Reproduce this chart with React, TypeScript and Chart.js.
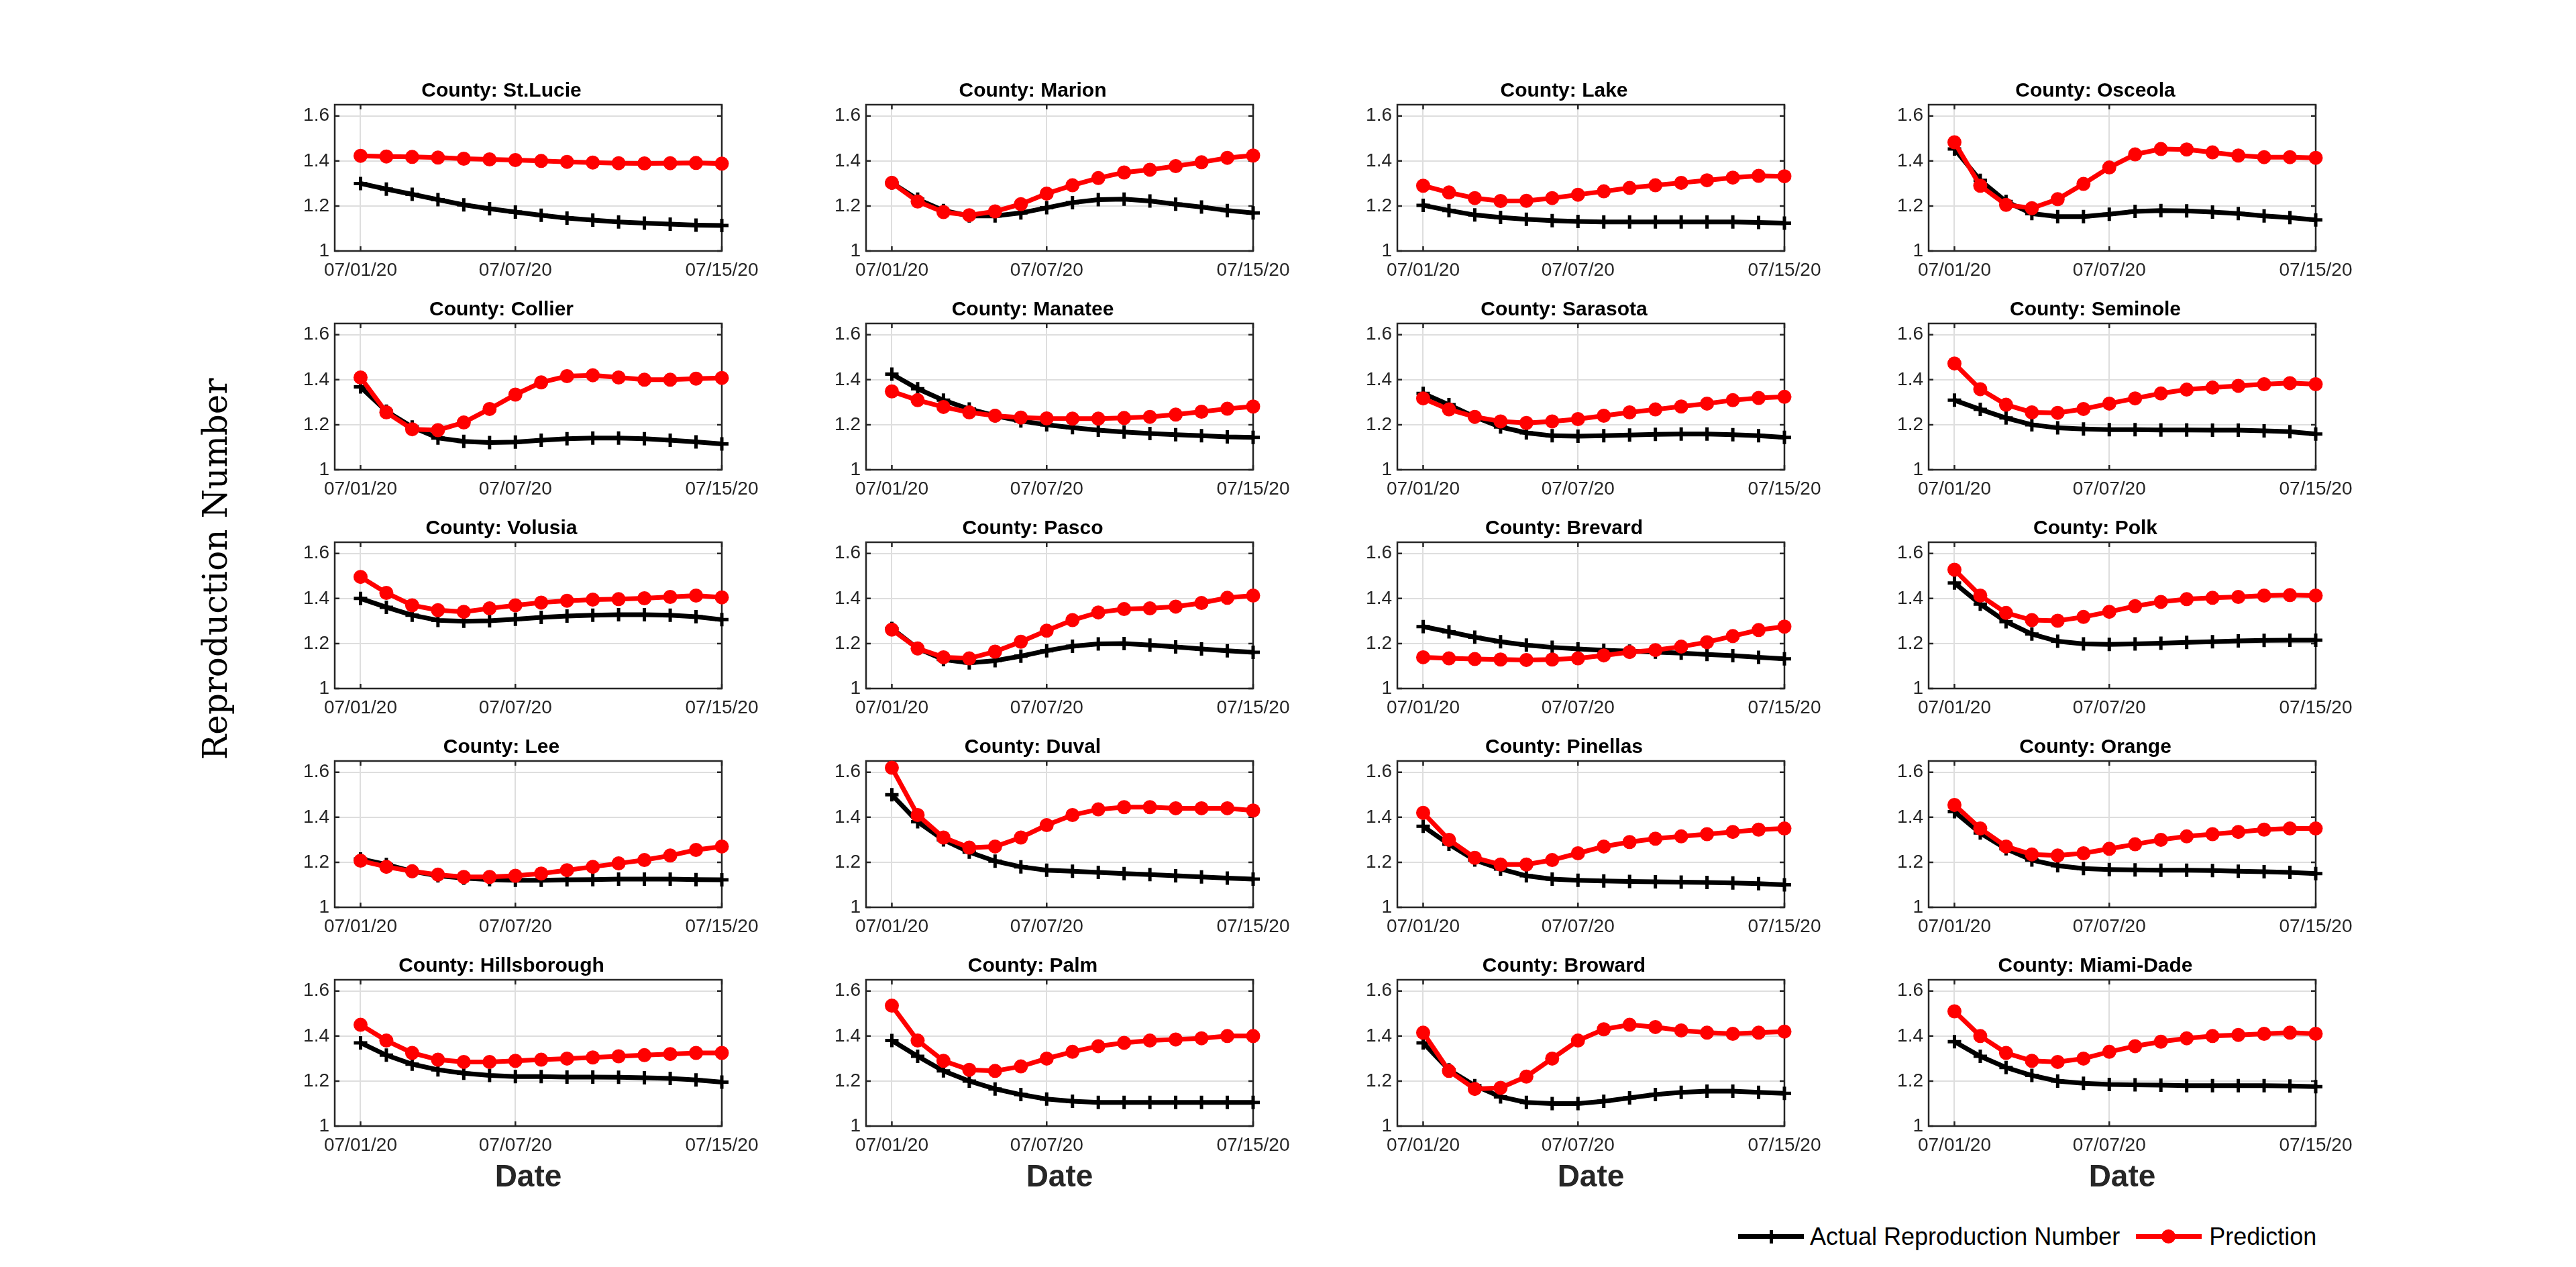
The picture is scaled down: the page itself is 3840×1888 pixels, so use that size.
import React, { useEffect, useRef } from 'react';
import { Chart, registerables } from 'chart.js';

Chart.register(...registerables);

const FONT = "'Liberation Sans', Arial, Helvetica, sans-serif";

// ---------- data ----------
const DATES = [
  '07/01/20', '07/02/20', '07/03/20', '07/04/20', '07/05/20', '07/06/20', '07/07/20', '07/08/20',
  '07/09/20', '07/10/20', '07/11/20', '07/12/20', '07/13/20', '07/14/20', '07/15/20',
];
const X_TICK_LABELS = ['07/01/20', '07/07/20', '07/15/20'];
const Y_TICKS = [1, 1.2, 1.4, 1.6];
const Y_MIN = 1;
const Y_MAX = 1.65;

const SERIES_LABELS = ['Actual Reproduction Number', 'Prediction'];
const COUNTIES = [
  'St.Lucie', 'Marion', 'Lake', 'Osceola',
  'Collier', 'Manatee', 'Sarasota', 'Seminole',
  'Volusia', 'Pasco', 'Brevard', 'Polk',
  'Lee', 'Duval', 'Pinellas', 'Orange',
  'Hillsborough', 'Palm', 'Broward', 'Miami-Dade',
];

const ACTUAL_ST_LUCIE = [1.30, 1.275, 1.252, 1.228, 1.205, 1.188, 1.173, 1.159, 1.146, 1.137, 1.129, 1.124, 1.119, 1.115, 1.113];
const PRED_ST_LUCIE = [1.423, 1.42, 1.418, 1.415, 1.41, 1.407, 1.404, 1.40, 1.396, 1.393, 1.39, 1.389, 1.39, 1.391, 1.388];
const ACTUAL_MARION = [1.303, 1.23, 1.18, 1.156, 1.156, 1.169, 1.192, 1.215, 1.228, 1.23, 1.222, 1.208, 1.195, 1.18, 1.169];
const PRED_MARION = [1.303, 1.22, 1.173, 1.159, 1.176, 1.208, 1.255, 1.292, 1.324, 1.349, 1.361, 1.377, 1.394, 1.414, 1.424];
const ACTUAL_LAKE = [1.203, 1.18, 1.16, 1.149, 1.141, 1.135, 1.131, 1.129, 1.129, 1.129, 1.129, 1.129, 1.129, 1.127, 1.124];
const PRED_LAKE = [1.29, 1.26, 1.235, 1.222, 1.223, 1.235, 1.25, 1.265, 1.28, 1.292, 1.303, 1.314, 1.326, 1.334, 1.332];
const ACTUAL_OSCEOLA = [1.453, 1.314, 1.22, 1.166, 1.153, 1.153, 1.163, 1.176, 1.18, 1.178, 1.173, 1.166, 1.156, 1.148, 1.138];
const PRED_OSCEOLA = [1.483, 1.29, 1.205, 1.19, 1.23, 1.298, 1.371, 1.429, 1.453, 1.451, 1.438, 1.424, 1.417, 1.417, 1.414];

const ACTUAL_COLLIER = [1.368, 1.26, 1.19, 1.141, 1.126, 1.121, 1.123, 1.131, 1.138, 1.141, 1.141, 1.138, 1.131, 1.124, 1.115];
const PRED_COLLIER = [1.41, 1.255, 1.18, 1.176, 1.21, 1.27, 1.334, 1.388, 1.416, 1.42, 1.41, 1.40, 1.40, 1.405, 1.408];
const ACTUAL_MANATEE = [1.425, 1.36, 1.309, 1.27, 1.24, 1.217, 1.20, 1.187, 1.176, 1.168, 1.161, 1.156, 1.151, 1.146, 1.144];
const PRED_MANATEE = [1.348, 1.309, 1.279, 1.255, 1.24, 1.232, 1.228, 1.227, 1.227, 1.23, 1.235, 1.245, 1.258, 1.271, 1.281];
const ACTUAL_SARASOTA = [1.339, 1.289, 1.235, 1.19, 1.164, 1.151, 1.149, 1.151, 1.154, 1.157, 1.159, 1.159, 1.156, 1.151, 1.144];
const PRED_SARASOTA = [1.317, 1.268, 1.235, 1.215, 1.208, 1.215, 1.225, 1.24, 1.255, 1.268, 1.281, 1.294, 1.309, 1.319, 1.324];
const ACTUAL_SEMINOLE = [1.309, 1.268, 1.23, 1.20, 1.186, 1.181, 1.178, 1.178, 1.177, 1.177, 1.176, 1.176, 1.173, 1.169, 1.159];
const PRED_SEMINOLE = [1.472, 1.358, 1.289, 1.255, 1.253, 1.27, 1.294, 1.317, 1.339, 1.356, 1.365, 1.373, 1.38, 1.385, 1.38];

const ACTUAL_VOLUSIA = [1.40, 1.361, 1.326, 1.303, 1.299, 1.301, 1.308, 1.316, 1.322, 1.326, 1.328, 1.328, 1.326, 1.319, 1.306];
const PRED_VOLUSIA = [1.496, 1.425, 1.37, 1.348, 1.341, 1.356, 1.37, 1.382, 1.39, 1.395, 1.397, 1.401, 1.407, 1.413, 1.405];
const ACTUAL_PASCO = [1.267, 1.178, 1.129, 1.114, 1.124, 1.144, 1.168, 1.188, 1.198, 1.20, 1.193, 1.185, 1.176, 1.168, 1.161];
const PRED_PASCO = [1.262, 1.178, 1.139, 1.134, 1.164, 1.208, 1.257, 1.304, 1.338, 1.353, 1.356, 1.364, 1.38, 1.403, 1.413];
const ACTUAL_BREVARD = [1.275, 1.252, 1.228, 1.208, 1.193, 1.183, 1.176, 1.17, 1.166, 1.162, 1.157, 1.151, 1.146, 1.139, 1.132];
const PRED_BREVARD = [1.139, 1.134, 1.131, 1.129, 1.127, 1.129, 1.134, 1.147, 1.162, 1.171, 1.186, 1.206, 1.233, 1.26, 1.275];
const ACTUAL_POLK = [1.469, 1.375, 1.297, 1.242, 1.21, 1.198, 1.196, 1.198, 1.201, 1.205, 1.208, 1.212, 1.214, 1.215, 1.215];
const PRED_POLK = [1.528, 1.413, 1.336, 1.304, 1.301, 1.318, 1.341, 1.366, 1.385, 1.397, 1.403, 1.407, 1.413, 1.415, 1.413];

const ACTUAL_LEE = [1.215, 1.19, 1.16, 1.14, 1.13, 1.123, 1.12, 1.12, 1.122, 1.123, 1.125, 1.125, 1.125, 1.123, 1.122];
const PRED_LEE = [1.207, 1.18, 1.16, 1.145, 1.135, 1.135, 1.14, 1.15, 1.165, 1.18, 1.195, 1.21, 1.23, 1.255, 1.27];
const ACTUAL_DUVAL = [1.50, 1.38, 1.30, 1.245, 1.205, 1.18, 1.165, 1.16, 1.155, 1.15, 1.145, 1.14, 1.135, 1.13, 1.125];
const PRED_DUVAL = [1.62, 1.41, 1.31, 1.265, 1.27, 1.31, 1.365, 1.41, 1.435, 1.445, 1.445, 1.44, 1.44, 1.44, 1.43];
const ACTUAL_PINELLAS = [1.36, 1.28, 1.21, 1.17, 1.14, 1.125, 1.12, 1.117, 1.115, 1.113, 1.112, 1.11, 1.108, 1.105, 1.10];
const PRED_PINELLAS = [1.42, 1.30, 1.22, 1.19, 1.19, 1.21, 1.24, 1.27, 1.29, 1.305, 1.315, 1.325, 1.335, 1.345, 1.35];
const ACTUAL_ORANGE = [1.425, 1.33, 1.26, 1.21, 1.185, 1.172, 1.168, 1.166, 1.165, 1.165, 1.163, 1.16, 1.158, 1.155, 1.15];
const PRED_ORANGE = [1.455, 1.35, 1.27, 1.235, 1.23, 1.24, 1.26, 1.28, 1.30, 1.315, 1.325, 1.335, 1.345, 1.35, 1.35];

const ACTUAL_HILLSBOROUGH = [1.37, 1.315, 1.275, 1.25, 1.235, 1.225, 1.22, 1.22, 1.218, 1.218, 1.217, 1.215, 1.212, 1.205, 1.195];
const PRED_HILLSBOROUGH = [1.45, 1.38, 1.325, 1.295, 1.285, 1.285, 1.29, 1.295, 1.30, 1.305, 1.31, 1.315, 1.32, 1.325, 1.325];
const ACTUAL_PALM = [1.38, 1.31, 1.245, 1.20, 1.165, 1.14, 1.12, 1.11, 1.105, 1.105, 1.105, 1.105, 1.105, 1.105, 1.105];
const PRED_PALM = [1.535, 1.38, 1.29, 1.25, 1.245, 1.265, 1.30, 1.33, 1.355, 1.37, 1.38, 1.385, 1.39, 1.40, 1.40];
const ACTUAL_BROWARD = [1.37, 1.25, 1.18, 1.13, 1.105, 1.10, 1.10, 1.11, 1.125, 1.14, 1.15, 1.155, 1.155, 1.15, 1.145];
const PRED_BROWARD = [1.415, 1.245, 1.165, 1.17, 1.22, 1.30, 1.38, 1.43, 1.45, 1.44, 1.425, 1.415, 1.41, 1.415, 1.42];
const ACTUAL_MIAMI_DADE = [1.375, 1.31, 1.26, 1.225, 1.20, 1.19, 1.185, 1.183, 1.182, 1.18, 1.18, 1.18, 1.18, 1.178, 1.175];
const PRED_MIAMI_DADE = [1.51, 1.40, 1.325, 1.29, 1.285, 1.30, 1.33, 1.355, 1.375, 1.39, 1.40, 1.405, 1.41, 1.415, 1.41];

const ACTUAL_SERIES = [
  ACTUAL_ST_LUCIE, ACTUAL_MARION, ACTUAL_LAKE, ACTUAL_OSCEOLA,
  ACTUAL_COLLIER, ACTUAL_MANATEE, ACTUAL_SARASOTA, ACTUAL_SEMINOLE,
  ACTUAL_VOLUSIA, ACTUAL_PASCO, ACTUAL_BREVARD, ACTUAL_POLK,
  ACTUAL_LEE, ACTUAL_DUVAL, ACTUAL_PINELLAS, ACTUAL_ORANGE,
  ACTUAL_HILLSBOROUGH, ACTUAL_PALM, ACTUAL_BROWARD, ACTUAL_MIAMI_DADE,
];
const PRED_SERIES = [
  PRED_ST_LUCIE, PRED_MARION, PRED_LAKE, PRED_OSCEOLA,
  PRED_COLLIER, PRED_MANATEE, PRED_SARASOTA, PRED_SEMINOLE,
  PRED_VOLUSIA, PRED_PASCO, PRED_BREVARD, PRED_POLK,
  PRED_LEE, PRED_DUVAL, PRED_PINELLAS, PRED_ORANGE,
  PRED_HILLSBOROUGH, PRED_PALM, PRED_BROWARD, PRED_MIAMI_DADE,
];

// ---------- layout ----------
const COL_LEFT = [499, 1291, 2083, 2875];
const ROW_TOP = [156, 482, 808, 1134, 1460];
const PLOT_W = 577;
const PLOT_H = 218;
const YW = 80;
const TITLE_H = 38;
const PAD_R = 70;
const XH = 60;
const XH_LAST = 110;

const boxPlugin = {
  id: 'matlabBox',
  beforeDatasetsDraw(chart: any) {
    const { ctx, chartArea: a, scales } = chart;
    ctx.save();
    ctx.strokeStyle = '#262626';
    ctx.lineWidth = 2.5;
    ctx.strokeRect(a.left, a.top, a.right - a.left, a.bottom - a.top);
    const tl = 7;
    ctx.beginPath();
    Y_TICKS.forEach((v) => {
      const y = scales.y.getPixelForValue(v);
      ctx.moveTo(a.left, y);
      ctx.lineTo(a.left + tl, y);
      ctx.moveTo(a.right, y);
      ctx.lineTo(a.right - tl, y);
    });
    X_TICK_LABELS.forEach((l) => {
      const x = scales.x.getPixelForValue(DATES.indexOf(l));
      ctx.moveTo(x, a.bottom);
      ctx.lineTo(x, a.bottom - tl);
      ctx.moveTo(x, a.top);
      ctx.lineTo(x, a.top + tl);
    });
    ctx.stroke();
    ctx.restore();
  },
};

function Panel({ idx }: { idx: number }) {
  const ref = useRef<HTMLCanvasElement>(null);
  const row = Math.floor(idx / 4);
  const col = idx % 4;
  const last = row === 4;
  const w = YW + PLOT_W + PAD_R;
  const h = TITLE_H + PLOT_H + (last ? XH_LAST : XH);

  useEffect(() => {
    const actual = ACTUAL_SERIES[idx];
    const pred = PRED_SERIES[idx];
    const chart = new Chart(ref.current as HTMLCanvasElement, {
      type: 'line',
      data: {
        datasets: [
          {
            label: SERIES_LABELS[0],
            data: actual.map((v, i) => ({ x: i, y: v })),
            borderColor: '#000000',
            backgroundColor: '#000000',
            borderWidth: 7,
            pointStyle: 'cross',
            pointRadius: 10,
            pointBorderWidth: 5,
            pointBorderColor: '#000000',
            tension: 0,
            order: 2,
            clip: false,
          } as any,
          {
            label: SERIES_LABELS[1],
            data: pred.map((v, i) => ({ x: i, y: v })),
            borderColor: '#ff0000',
            backgroundColor: '#ff0000',
            borderWidth: 7,
            pointStyle: 'circle',
            pointRadius: 10.5,
            pointBorderWidth: 0,
            tension: 0,
            order: 1,
            clip: false,
          } as any,
        ],
      },
      options: {
        animation: false,
        responsive: false,
        devicePixelRatio: 1,
        events: [],
        layout: { padding: { left: 0, right: PAD_R, top: 0, bottom: 0 } },
        plugins: {
          legend: { display: false },
          tooltip: { enabled: false },
          title: {
            display: true,
            text: 'County: ' + COUNTIES[idx],
            color: '#000000',
            font: { family: FONT, size: 30, weight: 'bold', lineHeight: 1.2 },
            padding: { top: 0, bottom: 2 },
          },
        },
        scales: {
          x: {
            type: 'linear',
            min: -1,
            max: DATES.length - 1,
            afterFit: (s: any) => {
              s.height = last ? XH_LAST : XH;
            },
            afterBuildTicks: (s: any) => {
              s.ticks = X_TICK_LABELS.map((l) => ({ value: DATES.indexOf(l) }));
            },
            ticks: {
              callback: (v: any) => DATES[v as number] ?? '',
              color: '#262626',
              font: { family: FONT, size: 28 },
              padding: 12,
              maxRotation: 0,
              autoSkip: false,
            },
            grid: { color: '#dedede', lineWidth: 2, drawTicks: false },
            border: { display: false },
            title: last
              ? {
                  display: true,
                  text: 'Date',
                  color: '#262626',
                  font: { family: FONT, size: 46, weight: 'bold', lineHeight: 1.2 },
                  padding: { top: 0, bottom: 5 },
                }
              : { display: false },
          },
          y: {
            type: 'linear',
            min: Y_MIN,
            max: Y_MAX,
            afterFit: (s: any) => {
              s.width = YW;
            },
            afterBuildTicks: (s: any) => {
              s.ticks = Y_TICKS.map((v) => ({ value: v }));
            },
            ticks: {
              callback: (v: any) => (v === 1 ? '1' : Number(v).toFixed(1)),
              color: '#262626',
              font: { family: FONT, size: 28 },
              padding: 8,
            },
            grid: { color: '#dedede', lineWidth: 2, drawTicks: false },
            border: { display: false },
          },
        },
      } as any,
      plugins: [boxPlugin],
    });
    return () => chart.destroy();
  }, [idx]);

  return (
    <canvas
      ref={ref}
      width={w}
      height={h}
      style={{
        position: 'absolute',
        left: COL_LEFT[col] - YW,
        top: ROW_TOP[row] - TITLE_H,
        width: w,
        height: h,
      }}
    />
  );
}

function LegendSwatch({ kind }: { kind: 'actual' | 'pred' }) {
  const color = kind === 'actual' ? '#000000' : '#ff0000';
  return (
    <div style={{ position: 'relative', width: 98, height: 40 }}>
      <div style={{ position: 'absolute', left: 0, top: 16, width: 98, height: 7, background: color }} />
      {kind === 'actual' ? (
        <div style={{ position: 'absolute', left: 47, top: 10, width: 5, height: 20, background: color }} />
      ) : (
        <div
          style={{
            position: 'absolute',
            left: 38,
            top: 9,
            width: 21,
            height: 21,
            borderRadius: 11,
            background: color,
          }}
        />
      )}
    </div>
  );
}

export default function App() {
  useEffect(() => {
    document.body.style.margin = '0';
    document.documentElement.style.overflow = 'hidden';
  }, []);

  return (
    <div
      style={{
        position: 'absolute',
        left: 0,
        top: 0,
        width: 3840,
        height: 1888,
        background: '#ffffff',
        overflow: 'hidden',
      }}
    >
      {COUNTIES.map((_, i) => (
        <Panel key={i} idx={i} />
      ))}
      <div
        style={{
          position: 'absolute',
          left: 321,
          top: 848,
          transform: 'translate(-50%, -50%) rotate(-90deg)',
          fontFamily: "'DejaVu Serif', serif",
          fontSize: 50,
          color: '#000000',
          whiteSpace: 'nowrap',
        }}
      >
        Reproduction Number
      </div>
      <div
        style={{
          position: 'absolute',
          left: 2591,
          top: 1843 - 20,
          height: 40,
          display: 'flex',
          alignItems: 'center',
          fontFamily: FONT,
          fontSize: 36,
          color: '#000000',
          whiteSpace: 'nowrap',
        }}
      >
        <LegendSwatch kind="actual" />
        <span style={{ marginLeft: 9 }}>{SERIES_LABELS[0]}</span>
        <div style={{ width: 24 }} />
        <LegendSwatch kind="pred" />
        <span style={{ marginLeft: 11 }}>{SERIES_LABELS[1]}</span>
      </div>
    </div>
  );
}
